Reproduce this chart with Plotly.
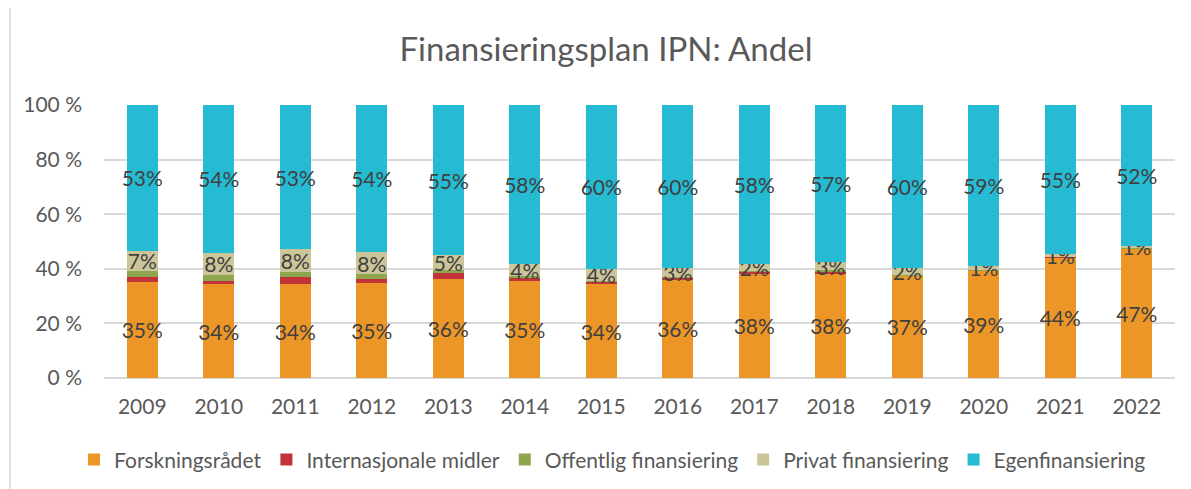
import plotly.graph_objects as go

# Finansieringsplan IPN - andel per finansieringskilde (prosent)
years = ["2009", "2010", "2011", "2012", "2013", "2014", "2015",
         "2016", "2017", "2018", "2019", "2020", "2021", "2022"]
forskningsradet = [35.2, 34.4, 34.3, 34.9, 36.4, 35.4, 34.4, 35.9, 38.4, 38.4, 37.4, 39.2, 44.2, 47.3]
internasjonale = [1.8, 1.2, 2.6, 1.2, 2.0, 1.5, 1.0, 0.8, 0.5, 0.6, 0.3, 0.3, 0.2, 0.2]
offentlig = [2.2, 2.2, 2.0, 1.9, 1.1, 0.4, 0.3, 0.3, 0.3, 0.4, 0.2, 0.2, 0.1, 0.1]
privat = [7.4, 8.0, 8.2, 8.2, 5.4, 4.4, 4.3, 3.2, 2.4, 3.2, 2.3, 1.2, 0.9, 0.8]
egen = [53.4, 54.2, 52.9, 53.8, 55.1, 58.3, 60.0, 59.8, 58.4, 57.4, 59.8, 59.1, 54.6, 51.6]

series = [
    ("Forskningsrådet", forskningsradet, "#ED9628", True),
    ("Internasjonale midler", internasjonale, "#C2343A", False),
    ("Offentlig finansiering", offentlig, "#8FA64E", False),
    ("Privat finansiering", privat, "#CBC599", True),
    ("Egenfinansiering", egen, "#25BBD3", True),
]

FONT = "Lato, Calibri, sans-serif"
GREY = "#595959"

fig = go.Figure()
for name, vals, color, labelled in series:
    fig.add_trace(go.Bar(
        x=years, y=vals, name=name,
        marker=dict(color=color, line=dict(width=0)),
        texttemplate="%{y:.0f}%" if labelled else None,
        textposition="inside" if labelled else "none",
        insidetextanchor="middle",
        textangle=0,
        textfont=dict(family=FONT, size=21, color="#404040"),
    ))

# page body has an 8px margin, so the figure is 8px smaller than the window
fig.update_layout(
    barmode="stack",
    bargap=0.6,
    width=1183, height=481,
    paper_bgcolor="white",
    plot_bgcolor="white",
    margin=dict(l=96, r=16, t=97, b=111, autoexpand=False),
    font=dict(family=FONT, color=GREY),
    title=dict(text="Finansieringsplan IPN: Andel", x=0.5055, xref="container",
               y=0.913, yref="container", xanchor="center", yanchor="middle",
               font=dict(family=FONT, size=33, color=GREY)),
    uniformtext=dict(minsize=21, mode="show"),
    # legend left of / below the plot area so it may use the full width in one row
    legend=dict(orientation="h", x=-0.028, xanchor="left",
                y=-0.30, yanchor="middle",
                font=dict(family=FONT, size=21, color=GREY),
                itemwidth=30, traceorder="normal"),
    yaxis=dict(range=[0, 100], dtick=20, ticksuffix=" %", showgrid=True,
               gridcolor="#d9d9d9", gridwidth=1.5, zeroline=True, zerolinecolor="#d9d9d9",
               zerolinewidth=1.5, tickfont=dict(size=21, color=GREY), ticks="",
               ticklabelstandoff=21, fixedrange=True),
    xaxis=dict(showgrid=False, showline=False, tickfont=dict(size=21, color=GREY),
               ticks="", tickangle=0, ticklabelstandoff=14, fixedrange=True),
    shapes=[dict(type="line", xref="paper", yref="paper", x0=-0.0878, x1=-0.0878,
                 y0=-0.45, y1=1.4, line=dict(color="#d9d9d9", width=1.5))],
)

fig.write_html("out.html", config={"displayModeBar": False})
